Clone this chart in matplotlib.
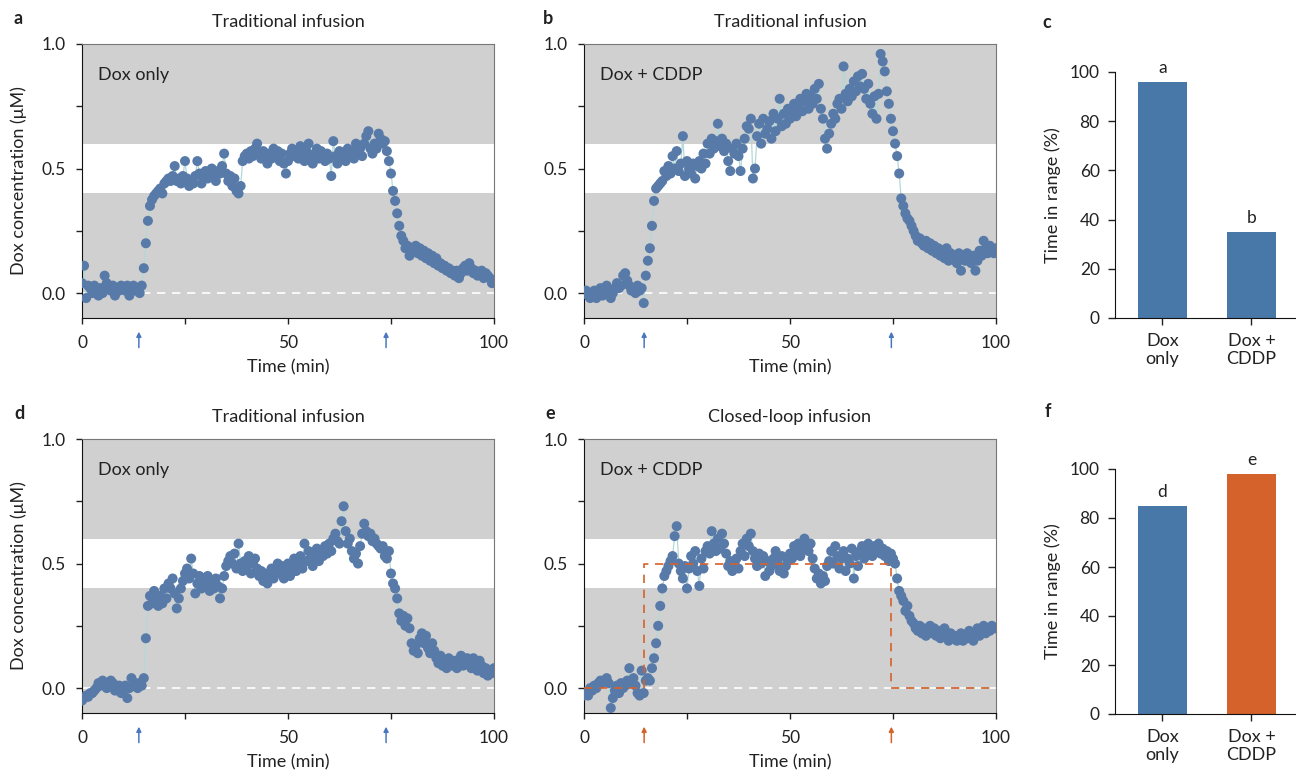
import matplotlib

matplotlib.use("Agg")
import matplotlib.pyplot as plt
import numpy as np

# ---------- data ----------
time_min = np.arange(0, 100.5, 0.5)  # sampling grid, 0.5 min

dox_only_a = [
    0.04, 0.11, -0.02, 0.03, 0.02, 0.00, 0.03, 0.01, -0.01, 0.02, 0.00, 0.07, 0.04, 0.02, 0.01, 0.03, -0.01, 0.02, 0.01, 0.03,
    0.02, 0.01, 0.03, -0.01, 0.02, 0.03, 0.01, 0.02, 0.00, 0.03, 0.10, 0.20, 0.29, 0.35, 0.375, 0.39, 0.40, 0.41, 0.42, 0.40,
    0.44, 0.45, 0.46, 0.45, 0.47, 0.51, 0.45, 0.46, 0.44, 0.47, 0.53, 0.46, 0.43, 0.45, 0.44, 0.47, 0.53, 0.48, 0.44, 0.47,
    0.49, 0.46, 0.48, 0.50, 0.47, 0.45, 0.49, 0.48, 0.51, 0.56, 0.48, 0.45, 0.47, 0.43, 0.46, 0.41, 0.40, 0.43, 0.53, 0.55,
    0.56, 0.54, 0.57, 0.55, 0.58, 0.60, 0.56, 0.54, 0.57, 0.55, 0.52, 0.56, 0.54, 0.58, 0.55, 0.57, 0.53, 0.56, 0.52, 0.48,
    0.53, 0.56, 0.58, 0.55, 0.57, 0.54, 0.59, 0.56, 0.53, 0.57, 0.60, 0.55, 0.52, 0.56, 0.58, 0.54, 0.57, 0.55, 0.53, 0.56,
    0.54, 0.47, 0.61, 0.55, 0.52, 0.57, 0.54, 0.56, 0.53, 0.58, 0.55, 0.57, 0.54, 0.60, 0.56, 0.58, 0.55, 0.60, 0.63, 0.65,
    0.58, 0.56, 0.60, 0.58, 0.64, 0.62, 0.60, 0.61, 0.57, 0.53, 0.48, 0.41, 0.37, 0.32, 0.27, 0.23, 0.21, 0.18, 0.19, 0.15,
    0.18, 0.17, 0.19, 0.16, 0.18, 0.15, 0.17, 0.14, 0.16, 0.13, 0.15, 0.12, 0.14, 0.11, 0.12, 0.10, 0.11, 0.09, 0.10, 0.08,
    0.09, 0.07, 0.09, 0.06, 0.08, 0.10, 0.11, 0.09, 0.12, 0.10, 0.08, 0.09, 0.07, 0.08, 0.09, 0.06, 0.08, 0.07, 0.06, 0.04,
    0.05,
]

dox_cddp_b = [
    0.00, 0.01, -0.01, -0.02, 0.00, 0.01, -0.02, 0.00, 0.02, -0.01, 0.00, 0.03, 0.01, -0.02, 0.00, 0.02, 0.04, 0.02, 0.03, 0.07,
    0.08, 0.05, 0.03, 0.01, 0.02, 0.00, 0.03, 0.01, 0.02, -0.04, 0.07, 0.13, 0.18, 0.27, 0.37, 0.42, 0.43, 0.44, 0.45, 0.49,
    0.47, 0.51, 0.48, 0.55, 0.50, 0.57, 0.49, 0.52, 0.63, 0.47, 0.53, 0.50, 0.48, 0.52, 0.46, 0.51, 0.53, 0.50, 0.56, 0.52,
    0.60, 0.56, 0.62, 0.58, 0.61, 0.68, 0.59, 0.62, 0.57, 0.60, 0.53, 0.49, 0.58, 0.56, 0.60, 0.55, 0.49, 0.58, 0.62, 0.67,
    0.66, 0.70, 0.46, 0.50, 0.63, 0.68, 0.60, 0.70, 0.64, 0.66, 0.69, 0.62, 0.72, 0.65, 0.70, 0.78, 0.67, 0.72, 0.68, 0.74,
    0.70, 0.73, 0.76, 0.71, 0.75, 0.78, 0.73, 0.77, 0.80, 0.74, 0.79, 0.76, 0.82, 0.78, 0.84, 0.74, 0.70, 0.62, 0.58, 0.64,
    0.68, 0.72, 0.70, 0.76, 0.78, 0.74, 0.91, 0.80, 0.77, 0.82, 0.79, 0.85, 0.81, 0.87, 0.83, 0.88, 0.82, 0.78, 0.84, 0.76,
    0.72, 0.79, 0.70, 0.80, 0.96, 0.93, 0.89, 0.81, 0.76, 0.70, 0.65, 0.60, 0.55, 0.48, 0.38, 0.35, 0.32, 0.30, 0.29, 0.27,
    0.25, 0.23, 0.21, 0.22, 0.20, 0.19, 0.21, 0.18, 0.20, 0.17, 0.19, 0.16, 0.18, 0.15, 0.17, 0.14, 0.18, 0.13, 0.16, 0.14,
    0.15, 0.12, 0.16, 0.09, 0.15, 0.13, 0.16, 0.14, 0.12, 0.15, 0.09, 0.13, 0.17, 0.15, 0.21, 0.18, 0.16, 0.19, 0.17, 0.16,
    0.18,
]

dox_only_d = [
    -0.05, -0.04, -0.03, -0.035, -0.02, -0.02, -0.01, 0.00, 0.02, 0.01, 0.03, 0.02, 0.00, 0.01, 0.03, 0.02, -0.01, 0.00, 0.01, -0.02,
    -0.01, 0.01, -0.04, 0.00, 0.04, 0.01, 0.02, 0.00, 0.02, 0.01, 0.04, 0.20, 0.33, 0.37, 0.34, 0.39, 0.35, 0.33, 0.37, 0.34,
    0.40, 0.36, 0.42, 0.40, 0.44, 0.38, 0.32, 0.36, 0.40, 0.43, 0.46, 0.48, 0.44, 0.52, 0.46, 0.38, 0.42, 0.45, 0.40, 0.44,
    0.41, 0.45, 0.39, 0.43, 0.40, 0.44, 0.41, 0.36, 0.40, 0.45, 0.49, 0.51, 0.53, 0.50, 0.54, 0.48, 0.58, 0.50, 0.47, 0.51,
    0.49, 0.53, 0.46, 0.50, 0.52, 0.48, 0.45, 0.47, 0.43, 0.46, 0.42, 0.45, 0.48, 0.44, 0.47, 0.50, 0.46, 0.49, 0.44, 0.47,
    0.50, 0.45, 0.48, 0.52, 0.47, 0.50, 0.53, 0.48, 0.58, 0.51, 0.55, 0.52, 0.49, 0.54, 0.56, 0.51, 0.55, 0.53, 0.57, 0.54,
    0.58, 0.55, 0.60, 0.62, 0.59, 0.58, 0.67, 0.73, 0.63, 0.58, 0.60, 0.55, 0.52, 0.54, 0.50, 0.57, 0.62, 0.66, 0.63, 0.61,
    0.62, 0.59, 0.60, 0.58, 0.57, 0.56, 0.57, 0.53, 0.52, 0.55, 0.46, 0.42, 0.40, 0.36, 0.30, 0.27, 0.29, 0.25, 0.28, 0.24,
    0.18, 0.15, 0.17, 0.14, 0.20, 0.22, 0.18, 0.21, 0.16, 0.14, 0.18, 0.15, 0.12, 0.10, 0.13, 0.09, 0.11, 0.08, 0.12, 0.10,
    0.09, 0.11, 0.08, 0.10, 0.13, 0.09, 0.11, 0.12, 0.10, 0.08, 0.12, 0.10, 0.07, 0.11, 0.09, 0.06, 0.08, 0.05, 0.07, 0.06,
    0.08,
]

dox_cddp_e = [
    -0.03, -0.02, -0.03, 0.00, -0.01, 0.01, 0.00, 0.02, 0.03, 0.02, 0.03, 0.04, 0.02, -0.08, -0.04, -0.01, 0.01, -0.02, 0.02, 0.00,
    0.01, 0.03, 0.08, 0.02, 0.04, 0.01, -0.02, -0.03, 0.07, -0.02, 0.03, 0.04, 0.03, 0.08, 0.12, 0.18, 0.25, 0.33, 0.40, 0.45,
    0.47, 0.49, 0.51, 0.53, 0.61, 0.65, 0.50, 0.47, 0.44, 0.49, 0.40, 0.48, 0.53, 0.50, 0.55, 0.47, 0.41, 0.52, 0.48, 0.55,
    0.57, 0.54, 0.63, 0.58, 0.55, 0.60, 0.56, 0.62, 0.58, 0.54, 0.49, 0.51, 0.47, 0.50, 0.52, 0.48, 0.55, 0.58, 0.53, 0.60,
    0.57, 0.62, 0.55, 0.52, 0.49, 0.54, 0.50, 0.53, 0.45, 0.51, 0.47, 0.49, 0.52, 0.55, 0.50, 0.47, 0.53, 0.46, 0.49, 0.51,
    0.54, 0.52, 0.57, 0.55, 0.58, 0.53, 0.56, 0.60, 0.57, 0.55, 0.58, 0.52, 0.48, 0.44, 0.46, 0.42, 0.45, 0.43, 0.49, 0.51,
    0.55, 0.50, 0.57, 0.53, 0.48, 0.52, 0.55, 0.47, 0.52, 0.50, 0.56, 0.44, 0.53, 0.49, 0.55, 0.57, 0.52, 0.54, 0.58, 0.55,
    0.53, 0.57, 0.55, 0.58, 0.54, 0.56, 0.53, 0.55, 0.51, 0.54, 0.52, 0.50, 0.44, 0.39, 0.37, 0.35, 0.31, 0.33, 0.29, 0.27,
    0.26, 0.24, 0.23, 0.25, 0.22, 0.24, 0.21, 0.23, 0.25, 0.22, 0.24, 0.21, 0.23, 0.20, 0.22, 0.24, 0.21, 0.19, 0.22, 0.20,
    0.21, 0.19, 0.20, 0.22, 0.19, 0.21, 0.20, 0.23, 0.21, 0.19, 0.22, 0.24, 0.21, 0.23, 0.25, 0.22, 0.24, 0.23, 0.25, 0.24,
    0.24,
]

# closed-loop setpoint (panel e)
setpoint_t = [0, 14.6, 14.6, 74.6, 74.6, 100]
setpoint_v = [0, 0, 0.5, 0.5, 0, 0]

# infusion on/off arrows
arrows_ad = [13.8, 73.8]
arrows_be = [14.6, 74.6]

# time in range (%)
bar_labels = ["Dox\nonly", "Dox +\nCDDP"]
tir_traditional = [96, 35]
tir_mixed = [85, 98]
letters_c = ["a", "b"]
letters_f = ["d", "e"]

# ---------- style ----------
DOT = "#587aa8"
LINK = "#b4d8d8"
BAND = "#d0d0d0"
BLUE_BAR = "#4878a8"
ORANGE = "#d5612b"
ARROW_BLUE = "#4a78c0"
INK = "#222222"

plt.rcParams.update({
    "font.family": ["Lato", "DejaVu Sans"],
    "font.size": 12,
    "text.color": INK,
    "axes.labelcolor": INK,
    "xtick.color": INK,
    "ytick.color": INK,
    "xtick.labelsize": 12.5,
    "ytick.labelsize": 12.5,
})

W, H = 1296, 779
fig = plt.figure(figsize=(W / 100, H / 100), dpi=100)


def rect(left, top, right, bottom):
    return [left / W, 1 - bottom / H, (right - left) / W, (bottom - top) / H]


def trace_panel(ax, conc, label, arrows, arrow_color, title, tag, tag_x, title_y, setpoint=False):
    ax.set_facecolor(BAND)
    ax.axhspan(0.4, 0.6, color="white", zorder=0, lw=0)
    ax.axhline(0, color="white", lw=1.2, ls=(0, (5, 4)), zorder=1)
    if setpoint:
        ax.plot(setpoint_t, setpoint_v, color=ORANGE, lw=1.2, ls=(0, (5, 4)), zorder=4)
    ax.plot(time_min, conc, color=LINK, lw=0.9, zorder=2)
    ax.scatter(time_min, conc, s=52, color=DOT, edgecolors="none", zorder=3)
    ax.set_xlim(0, 100)
    ax.set_ylim(-0.1, 1.0)
    ax.set_xticks([0, 25, 50, 75, 100])
    ax.set_xticklabels(["0", "", "50", "", "100"])
    ax.set_yticks([0, 0.25, 0.5, 0.75, 1.0])
    ax.set_yticklabels(["0.0", "", "0.5", "", "1.0"])
    ax.tick_params(direction="out", length=4, width=1, pad=8)
    ax.set_xlabel("Time (min)", fontsize=13, labelpad=6)
    for s in ("top", "right"):
        ax.spines[s].set_color("#777777")
    for s in ("left", "bottom"):
        ax.spines[s].set_color("#111111")
    ax.text(3.8, 0.875, label, fontsize=13, va="center", ha="left", color=INK)
    for xa in arrows:
        ax.annotate("", xy=(xa, -0.05), xycoords=("data", "axes fraction"),
                    xytext=(xa, -0.108), textcoords=("data", "axes fraction"),
                    arrowprops=dict(arrowstyle="-|>", color=arrow_color, lw=1.1,
                                    mutation_scale=7, shrinkA=0, shrinkB=0),
                    annotation_clip=False)
    pos = ax.get_position()
    fig.text(pos.x0 + pos.width / 2, title_y, title, ha="center", va="center", fontsize=13)
    fig.text(tag_x, title_y + 0.005, tag, fontweight="bold", fontsize=13, ha="left", va="center")


def bar_panel(ax, values, colors, letters, tag, tag_x, tag_y):
    x = np.arange(len(values))
    ax.bar(x, values, width=0.55, color=colors)
    for xi, v, lt in zip(x, values, letters):
        ax.text(xi, v + 2.5, lt, ha="center", va="bottom", fontsize=12.5)
    ax.set_xlim(-0.53, 1.5)
    ax.set_ylim(0, 100)
    ax.set_xticks(x)
    ax.set_xticklabels(bar_labels, fontsize=13, linespacing=1.15)
    ax.set_yticks([0, 20, 40, 60, 80, 100])
    ax.tick_params(direction="out", length=5, width=1, pad=6)
    ax.set_ylabel("Time in range (%)", fontsize=13, labelpad=6)
    for s in ("top", "right"):
        ax.spines[s].set_visible(False)
    ax.spines["left"].set_color("#111111")
    ax.spines["bottom"].set_color("#111111")
    fig.text(tag_x, tag_y, tag, fontweight="bold", fontsize=13, ha="left", va="center")


ax_a = fig.add_axes(rect(82, 44, 494, 318))
ax_b = fig.add_axes(rect(584, 44, 996, 318))
ax_c = fig.add_axes(rect(1115, 72, 1296, 318))
ax_d = fig.add_axes(rect(82, 439, 494, 713))
ax_e = fig.add_axes(rect(584, 439, 996, 713))
ax_f = fig.add_axes(rect(1115, 469, 1296, 714))

top_y = 1 - 22 / H
bot_y = 1 - 417 / H

trace_panel(ax_a, dox_only_a, "Dox only", arrows_ad, ARROW_BLUE, "Traditional infusion", "a", 14 / W, top_y)
trace_panel(ax_b, dox_cddp_b, "Dox + CDDP", arrows_be, ARROW_BLUE, "Traditional infusion", "b", 543 / W, top_y)
trace_panel(ax_d, dox_only_d, "Dox only", arrows_ad, ARROW_BLUE, "Traditional infusion", "d", 14 / W, bot_y)
trace_panel(ax_e, dox_cddp_e, "Dox + CDDP", arrows_be, ORANGE, "Closed-loop infusion", "e", 545 / W, bot_y,
            setpoint=True)
for ax in (ax_a, ax_d):
    ax.set_ylabel("Dox concentration (\u03bcM)", fontsize=13, labelpad=10)

bar_panel(ax_c, tir_traditional, [BLUE_BAR, BLUE_BAR], letters_c, "c", 1042 / W, top_y)
bar_panel(ax_f, tir_mixed, [BLUE_BAR, ORANGE], letters_f, "f", 1045 / W, 1 - 411 / H)

fig.savefig("out.png", dpi=100)
